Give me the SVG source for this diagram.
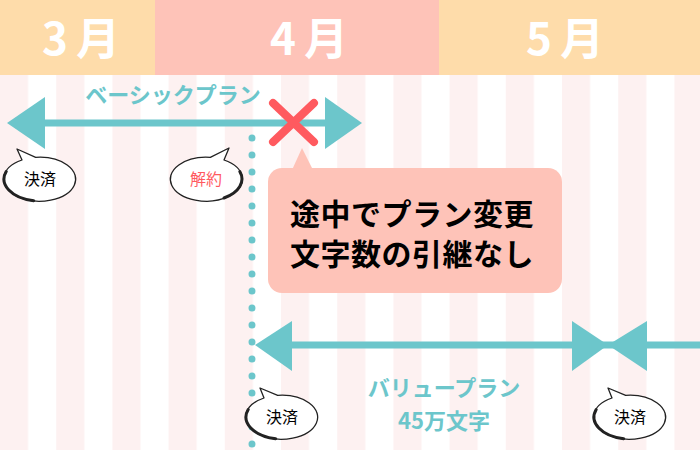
<svg xmlns="http://www.w3.org/2000/svg" width="700" height="450" viewBox="0 0 700 450">
<defs>
<style>
.stripe{fill:#FDF1F1}
.month{fill:#fff;font-family:"Noto Sans CJK JP","Noto Sans",sans-serif;font-weight:700;font-size:44px;text-anchor:middle;letter-spacing:8px}
.plan{fill:#6CC6CB;font-family:"Noto Sans CJK JP","Noto Sans",sans-serif;font-weight:700;font-size:22px;text-anchor:middle}
.bub{fill:#fff;stroke:#222;stroke-width:1.3;stroke-linejoin:round}
.thick{fill:none;stroke:#222;stroke-width:3;stroke-linecap:round}
.bubtxt{font-family:"Noto Sans CJK JP","Noto Sans",sans-serif;font-size:16px;text-anchor:middle}
.teal{fill:#6CC6CB}
.line{stroke:#6CC6CB;stroke-width:7}
.call{fill:#000;font-family:"Noto Sans CJK JP","Noto Sans",sans-serif;font-weight:700;font-size:30px;letter-spacing:0.5px}
</style>
<pattern id="stripes" x="0" y="0" width="56.2" height="450" patternUnits="userSpaceOnUse">
<rect class="stripe" x="0" y="0" width="28.1" height="450"/>
</pattern>
</defs>
<rect width="700" height="450" fill="#fff"/>
<rect x="0" y="75" width="700" height="375" fill="url(#stripes)"/>
<g id="header">
<rect x="0" y="0" width="155" height="75" fill="#FEDCAA"/>
<rect x="155" y="0" width="284" height="75" fill="#FEC3B8"/>
<rect x="439" y="0" width="261" height="75" fill="#FEDCAA"/>
<text class="month" x="85" y="55">3月</text>
<text class="month" x="313" y="55">4月</text>
<text class="month" x="569" y="55">5月</text>
</g>
<g id="connectors">
<line x1="252" y1="138" x2="252" y2="450" stroke="#6CC6CB" stroke-width="7" stroke-linecap="round" stroke-dasharray="0 17"/>
<g id="basic-arrow">
<line class="line" x1="40" y1="123" x2="330" y2="123"/>
<polygon class="teal" points="7,123 45,97 45,149"/>
<polygon class="teal" points="362,123 325,97 325,149"/>
</g>
<g id="value-arrow">
<line class="line" x1="285" y1="345" x2="700" y2="345"/>
<polygon class="teal" points="255,345 292,321 292,371"/>
<polygon class="teal" points="608,345 572,321 572,371"/>
<polygon class="teal" points="608,345 647,321 647,371"/>
</g>
</g>
<g id="cross">
<path d="M273,103 L314,142 M314,103 L273,142" stroke="#FF5A5F" stroke-width="8" stroke-linecap="round"/>
</g>
<g id="basic-label"><text class="plan" x="173" y="103">ベーシックプラン</text></g>
<g id="value-label">
<text class="plan" x="444" y="396">バリュープラン</text>
<text class="plan" x="444" y="429">45万文字</text>
</g>
<g id="bubble-pay1">
<path class="bub" d="M22,160 L17,149 L35.7,157.3 A36,22 0 1 1 22,160 Z"/>
<path class="thick" d="M6.2,171.5 A36,22 0 0 0 33.7,200.7"/>
<text class="bubtxt" x="40" y="185" fill="#000">決済</text>
</g>
<g id="bubble-cancel">
<path class="bub" d="M210.3,157.3 L229,148 L224,160 A36,22 0 1 1 210.3,157.3 Z"/>
<path class="thick" d="M239.8,171.5 A36,22 0 0 1 224,198"/>
<text class="bubtxt" x="206" y="185" fill="#FF5A5F">解約</text>
</g>
<g id="callout">
<rect x="268" y="168" width="294" height="125" rx="14" fill="#FEC3B8"/>
<polygon points="292,170 302,148 313,170" fill="#FEC3B8"/>
<text class="call" x="290" y="225">途中でプラン変更</text>
<text class="call" x="290" y="265">文字数の引継なし</text>
</g>
<g id="bubble-pay2">
<path class="bub" d="M264,398 L260,388 L277.7,395.3 A36,22 0 1 1 264,398 Z"/>
<path class="thick" d="M248.2,409.5 A36,22 0 0 0 275.7,438.7"/>
<text class="bubtxt" x="282" y="423" fill="#000">決済</text>
</g>
<g id="bubble-pay3">
<path class="bub" d="M612,398 L608,388 L625.7,395.3 A36,22 0 1 1 612,398 Z"/>
<path class="thick" d="M596.2,409.5 A36,22 0 0 0 623.7,438.7"/>
<text class="bubtxt" x="630" y="423" fill="#000">決済</text>
</g>
</svg>
